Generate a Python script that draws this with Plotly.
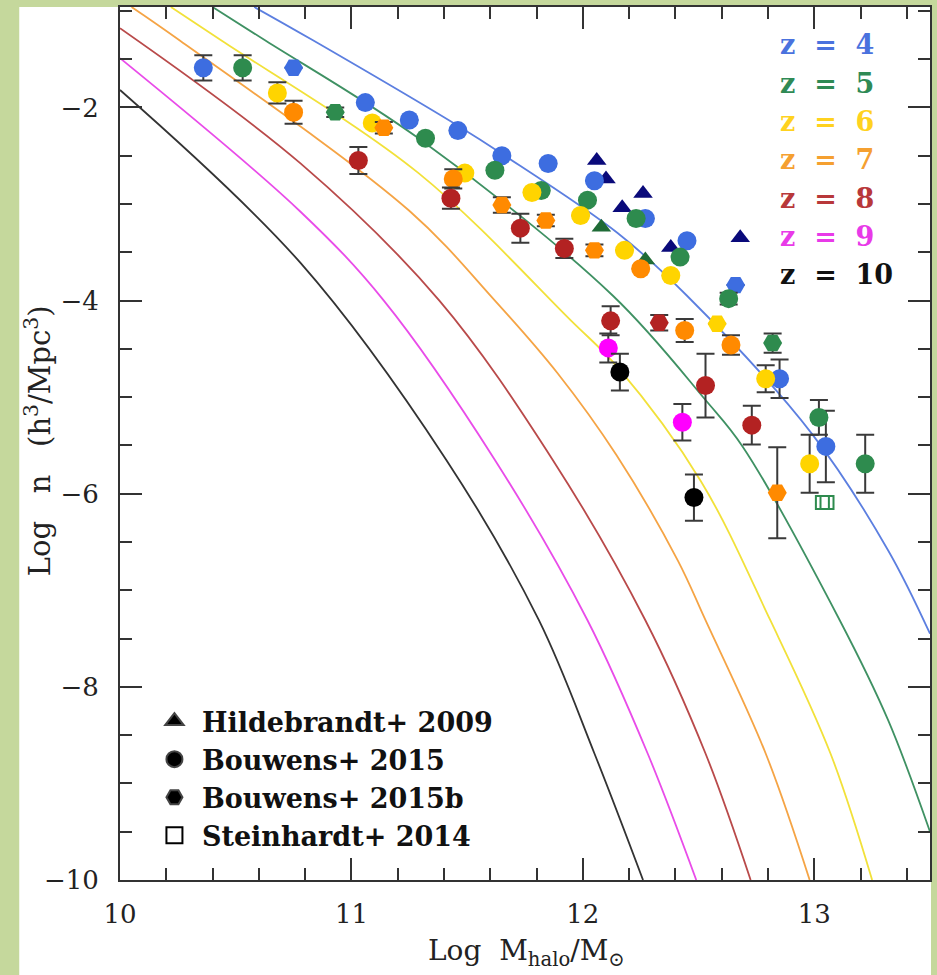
import plotly.graph_objects as go

# ---------------------------------------------------------------------------
# Halo mass function model curves (log n vs log M_halo), one per redshift
# ---------------------------------------------------------------------------
curve_x_z4 = [10.58, 10.83, 11.46, 11.65, 12.15, 12.45, 12.99, 13.32, 13.50]
curve_y_z4 = [-0.96, -1.30, -2.19, -2.48, -3.30, -3.95, -5.38, -6.59, -7.45]
curve_x_z5 = [10.40, 10.63, 11.29, 12.13, 12.53, 12.69, 13.11, 13.32, 13.50]
curve_y_z5 = [-0.96, -1.31, -2.32, -3.95, -5.03, -5.51, -7.31, -8.35, -9.50]
curve_x_z6 = [10.22, 10.44, 11.29, 11.95, 12.15, 12.51, 12.81, 13.07, 13.25]
curve_y_z6 = [-0.96, -1.31, -2.68, -4.21, -4.69, -5.87, -7.31, -8.69, -10.0]
curve_x_z7 = [10.05, 10.26, 11.25, 11.62, 11.89, 12.145, 12.41, 12.53, 12.79, 12.98]
curve_y_z7 = [-0.96, -1.31, -3.07, -4.00, -4.75, -5.60, -6.69, -7.31, -8.69, -10.0]
curve_x_z8 = [10.0, 10.78, 11.38, 11.87, 12.27, 12.53, 12.725]
curve_y_z8 = [-1.18, -2.58, -4.00, -5.65, -7.31, -8.69, -10.0]
curve_x_z9 = [10.0, 10.78, 11.14, 11.62, 12.02, 12.28, 12.49]
curve_y_z9 = [-1.49, -3.08, -4.00, -5.65, -7.31, -8.69, -10.0]
curve_x_z10 = [10.0, 10.78, 11.41, 11.81, 12.05, 12.26]
curve_y_z10 = [-1.82, -3.61, -5.65, -7.31, -8.69, -10.0]

# ---------------------------------------------------------------------------
# Observed abundances (Bouwens+ 2015 circles, Bouwens+ 2015b hexagons)
# ---------------------------------------------------------------------------
obs_x_z4 = [10.36, 10.75, 11.06, 11.25, 11.46, 11.65, 11.85, 12.05, 12.27, 12.45, 12.66, 12.85, 13.05]
obs_y_z4 = [-1.59, -1.59, -1.95, -2.13, -2.24, -2.50, -2.58, -2.76, -3.15, -3.38, -3.84, -4.81, -5.51]
obs_e_z4 = [0.13, 0.0, 0.0, 0.0, 0.0, 0.0, 0.0, 0.0, 0.0, 0.0, 0.0, 0.20, 0.37]
obs_s_z4 = ["c", "h", "c", "c", "c", "c", "c", "c", "c", "c", "h", "c", "c"]

obs_x_z5 = [10.53, 10.93, 11.32, 11.62, 11.82, 12.02, 12.23, 12.42, 12.63, 12.82, 13.02, 13.22]
obs_y_z5 = [-1.59, -2.05, -2.32, -2.65, -2.86, -2.96, -3.15, -3.55, -3.98, -4.44, -5.21, -5.69]
obs_e_z5 = [0.13, 0.05, 0.0, 0.0, 0.0, 0.0, 0.0, 0.0, 0.06, 0.10, 0.18, 0.30]
obs_s_z5 = ["c", "h", "c", "c", "c", "c", "c", "c", "c", "h", "c", "c"]

obs_x_z6 = [10.68, 11.09, 11.49, 11.78, 11.99, 12.18, 12.38, 12.58, 12.79, 12.98]
obs_y_z6 = [-1.85, -2.16, -2.68, -2.88, -3.12, -3.48, -3.74, -4.24, -4.81, -5.69]
obs_e_z6 = [0.11, 0.0, 0.0, 0.0, 0.0, 0.0, 0.0, 0.0, 0.14, 0.30]
obs_s_z6 = ["c", "c", "c", "c", "c", "c", "c", "h", "c", "c"]

obs_x_z7 = [10.75, 11.14, 11.44, 11.65, 11.84, 12.05, 12.25, 12.44, 12.64, 12.84]
obs_y_z7 = [-2.05, -2.21, -2.74, -3.01, -3.17, -3.48, -3.67, -4.31, -4.46, -5.99]
obs_e_z7 = [0.12, 0.06, 0.10, 0.08, 0.06, 0.06, 0.0, 0.12, 0.10, 0.47]
obs_s_z7 = ["c", "h", "c", "h", "h", "h", "c", "c", "c", "h"]

obs_x_z8 = [11.03, 11.43, 11.73, 11.92, 12.12, 12.33, 12.53, 12.73]
obs_y_z8 = [-2.55, -2.94, -3.25, -3.46, -4.21, -4.23, -4.88, -5.29]
obs_e_z8 = [0.14, 0.11, 0.15, 0.10, 0.15, 0.08, 0.33, 0.20]
obs_s_z8 = ["c", "c", "c", "c", "c", "h", "c", "c"]

obs_x_z9 = [12.11, 12.43]
obs_y_z9 = [-4.49, -5.26]
obs_e_z9 = [0.15, 0.19]
obs_s_z9 = ["c", "c"]

obs_x_z10 = [12.16, 12.48]
obs_y_z10 = [-4.74, -6.04]
obs_e_z10 = [0.19, 0.24]
obs_s_z10 = ["c", "c"]

# Hildebrandt+ 2009 (triangles) and Steinhardt+ 2014 (open squares)
hild_x_z4 = [12.06, 12.10, 12.17, 12.26, 12.38, 12.68]
hild_y_z4 = [-2.55, -2.74, -3.04, -2.89, -3.45, -3.35]
hild_x_z5 = [12.08, 12.27]
hild_y_z5 = [-3.24, -3.58]
stein_x_z5 = [13.035, 13.055]
stein_y_z5 = [-6.09, -6.09]

redshifts = [4, 5, 6, 7, 8, 9, 10]
point_colors = ["#3d6de0", "#2e8b4e", "#ffd400", "#ff8a00", "#b32222", "#ff00ff", "#000000"]
line_colors = ["#5c7fe0", "#3f9163", "#f2e13a", "#f5a445", "#b94a4a", "#e94ce9", "#333333"]
label_colors = ["#4a72de", "#2f8a55", "#ffd21f", "#f5a030", "#b8383a", "#e83ae8", "#111111"]

curves_x = [curve_x_z4, curve_x_z5, curve_x_z6, curve_x_z7, curve_x_z8, curve_x_z9, curve_x_z10]
curves_y = [curve_y_z4, curve_y_z5, curve_y_z6, curve_y_z7, curve_y_z8, curve_y_z9, curve_y_z10]
obs_x = [obs_x_z4, obs_x_z5, obs_x_z6, obs_x_z7, obs_x_z8, obs_x_z9, obs_x_z10]
obs_y = [obs_y_z4, obs_y_z5, obs_y_z6, obs_y_z7, obs_y_z8, obs_y_z9, obs_y_z10]
obs_e = [obs_e_z4, obs_e_z5, obs_e_z6, obs_e_z7, obs_e_z8, obs_e_z9, obs_e_z10]
obs_s = [obs_s_z4, obs_s_z5, obs_s_z6, obs_s_z7, obs_s_z8, obs_s_z9, obs_s_z10]

SERIF = "DejaVu Serif"
AXIS_COLOR = "#333333"
symbol_map = {"c": "circle", "h": "hexagon2"}
NB = "\u00a0"

fig = go.Figure()

# model curves
for zc, xs, ys, col in zip(redshifts, curves_x, curves_y, line_colors):
    fig.add_trace(go.Scatter(
        x=xs, y=ys, mode="lines",
        line=dict(color=col, width=1.8, shape="spline", smoothing=1.0),
        showlegend=False, hoverinfo="skip", name=f"z = {zc}"))

# Hildebrandt triangles sit beneath the circles
fig.add_trace(go.Scatter(
    x=hild_x_z4, y=hild_y_z4, mode="markers",
    marker=dict(symbol="triangle-up", size=17, color="#0a0a7a"),
    showlegend=False))
fig.add_trace(go.Scatter(
    x=hild_x_z5, y=hild_y_z5, mode="markers",
    marker=dict(symbol="triangle-up", size=17, color="#1f6b36"),
    showlegend=False))

# Bouwens points with error bars
for xs, ys, es, ss, col in zip(obs_x, obs_y, obs_e, obs_s, point_colors):
    fig.add_trace(go.Scatter(
        x=xs, y=ys, mode="markers",
        marker=dict(symbol=[symbol_map[s] for s in ss], size=19, color=col,
                    line=dict(width=0)),
        error_y=dict(type="data", array=es, visible=True, color="#3a3a3a",
                     thickness=2, width=9),
        showlegend=False))

# Steinhardt open squares
fig.add_trace(go.Scatter(
    x=stein_x_z5, y=stein_y_z5, mode="markers",
    marker=dict(symbol="square-open", size=13, color="#2e8b4e",
                line=dict(width=2)),
    showlegend=False))

# source key (black glyphs)
legend_items = [("Hildebrandt+ 2009", "triangle-up"),
                ("Bouwens+ 2015", "circle"),
                ("Bouwens+ 2015b", "hexagon2"),
                ("Steinhardt+ 2014", "square-open")]
for i, (label, sym) in enumerate(legend_items):
    fig.add_trace(go.Scatter(
        x=[None], y=[None], mode="markers", name=label, legendgroup=f"g{i}",
        marker=dict(symbol=sym, size=20, color="black", line=dict(width=2)),
        showlegend=True))

# redshift labels, top right
W_PLOT = 812.0
H_PLOT = 873.0
annotations = []
for i, (zc, col) in enumerate(zip(redshifts, label_colors)):
    annotations.append(dict(
        text=f"z{NB}{NB}={NB}{NB}{zc}", xref="paper", yref="paper",
        x=(780 - 120) / W_PLOT, y=1 - (45 + 38.3 * i - 7) / H_PLOT,
        xanchor="left", yanchor="middle", showarrow=False,
        font=dict(family=SERIF, size=27, color=col, weight="bold")))

# axis titles
annotations.append(dict(
    text=f"Log{NB}{NB}{NB}n{NB}{NB}{NB}(h<sup>3</sup>/Mpc<sup>3</sup>)",
    xref="paper", yref="paper", x=(38 - 120) / W_PLOT, y=1 - (441 - 7) / H_PLOT,
    textangle=-90, showarrow=False, xanchor="center", yanchor="middle",
    font=dict(family=SERIF, size=29, color="#222")))
annotations.append(dict(
    text=f"Log{NB}{NB}M<sub>halo</sub>/M<sub>\u2299</sub>",
    xref="paper", yref="paper", x=(528 - 120) / W_PLOT, y=(880 - 953) / H_PLOT,
    showarrow=False, xanchor="center", yanchor="middle",
    font=dict(family=SERIF, size=28, color="#222")))

axis_common = dict(
    showgrid=False, zeroline=False, showline=True, linecolor=AXIS_COLOR,
    linewidth=2, mirror="ticks", ticks="inside", ticklen=22, tickwidth=2,
    tickcolor=AXIS_COLOR,
    tickfont=dict(family=SERIF, size=26, color="#222"))

fig.update_layout(
    width=937, height=975,
    margin=dict(l=120, r=5, t=7, b=95),
    paper_bgcolor="#c5d89c", plot_bgcolor="white",
    annotations=annotations,
    shapes=[dict(type="rect", xref="paper", yref="paper",
                 x0=(19 - 120) / W_PLOT, x1=(933 - 120) / W_PLOT,
                 y0=(880 - 990) / H_PLOT, y1=1.0,
                 fillcolor="white", line_width=0, layer="below")],
    legend=dict(x=(147 - 120) / W_PLOT, y=1 - (697 - 7) / H_PLOT,
                xanchor="left", yanchor="top", bgcolor="rgba(0,0,0,0)",
                font=dict(family=SERIF, size=27, color="#111", weight="bold"),
                tracegroupgap=0, traceorder="grouped", itemwidth=45),
    xaxis=dict(range=[10, 13.5], tickvals=[10, 11, 12, 13],
               ticklabelstandoff=10,
               minor=dict(dtick=0.2, ticklen=12, tickwidth=1.5,
                          ticks="inside", tickcolor=AXIS_COLOR),
               **axis_common),
    yaxis=dict(range=[-10, -0.96], tickvals=[-10, -8, -6, -4, -2],
               ticklabelstandoff=14,
               minor=dict(dtick=0.5, ticklen=12, tickwidth=1.5,
                          ticks="inside", tickcolor=AXIS_COLOR),
               **axis_common),
)

fig.write_html("out.html")
